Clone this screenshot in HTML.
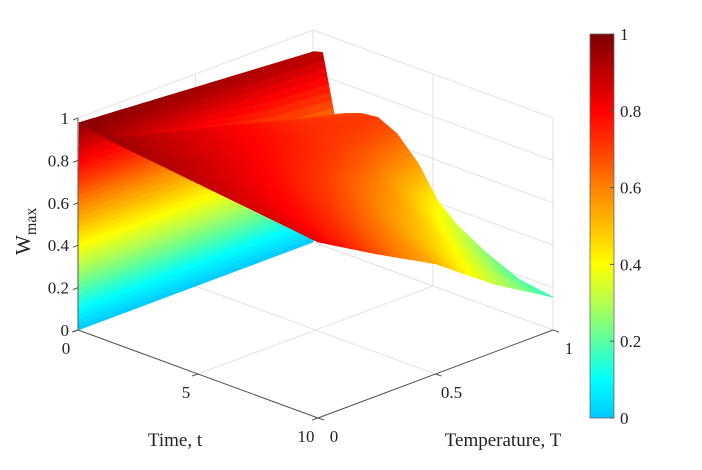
<!DOCTYPE html>
<html><head><meta charset="utf-8"><style>
html,body{margin:0;padding:0;background:#fff;}
svg{display:block;font-family:"Liberation Serif",serif;}
</style></head><body>
<svg id="chart" width="702" height="470" viewBox="0 0 702 470" xmlns="http://www.w3.org/2000/svg">
<g id="grid"></g>
<g id="surf"></g>
<g id="axes"></g>
<g id="cbar"></g>
</svg>
<script>
// ---- data ----
const tValues = [0, 0.05, 0.4, 0.9, 1.3, 2, 2.7, 3.5, 4.4, 5.2, 6, 7.2, 8.6, 10];
const TValues = [0, 0.25, 0.5, 0.75, 1];
const Wrow_t0   = [0, 0, 0, 0, 0];
const Wrow_t005 = [0.98, 0.96, 0.94, 0.92, 0.90];
const Wrow_t04  = [0.97, 0.95, 0.93, 0.92, 0.91];
const Wrow_t09  = [0.96, 0.84, 0.74, 0.66, 0.63];
const Wrow_t13  = [0.95, 0.88, 0.81, 0.73, 0.66];
const Wrow_t2   = [0.94, 0.87, 0.80, 0.73, 0.69];
const Wrow_t27  = [0.93, 0.86, 0.79, 0.72, 0.70];
const Wrow_t35  = [0.92, 0.85, 0.77, 0.70, 0.656];
const Wrow_t44  = [0.907, 0.83, 0.74, 0.66, 0.55];
const Wrow_t52  = [0.896, 0.81, 0.71, 0.60, 0.41];
const Wrow_t6   = [0.885, 0.79, 0.68, 0.55, 0.33];
const Wrow_t72  = [0.869, 0.76, 0.63, 0.47, 0.25];
const Wrow_t86  = [0.85, 0.715, 0.575, 0.39, 0.18];
const Wrow_t10  = [0.83, 0.67, 0.52, 0.32, 0.155];
const W = [Wrow_t0, Wrow_t005, Wrow_t04, Wrow_t09, Wrow_t13, Wrow_t2, Wrow_t27, Wrow_t35, Wrow_t44, Wrow_t52, Wrow_t6, Wrow_t72, Wrow_t86, Wrow_t10];
const tTicks = [0, 5, 10];
const TTicks = [0, 0.5, 1];
const zTicks = [0, 0.2, 0.4, 0.6, 0.8, 1];
const zTickLabels = ["0", "0.2", "0.4", "0.6", "0.8", "1"];
const TTickLabels = ["0", "0.5", "1"];
const tTickLabels = ["0", "5", "10"];

// ---- projection ----
const NS = "http://www.w3.org/2000/svg";
function px(t, T, z) { return 78 + 24 * t + 235 * T; }
function py(t, T, z) { return 330 + 8.8 * t - 88 * T - 212 * z; }
const stops = [[0,[0,200,255]],[0.1,[0,255,255]],[0.2,[90,255,160]],[0.3,[180,255,80]],[0.4,[255,255,0]],[0.5,[255,190,0]],[0.6,[255,130,0]],[0.7,[255,60,0]],[0.8,[255,0,0]],[0.9,[190,0,0]],[1,[125,0,0]]];
function cmap(v) {
  v = Math.max(0, Math.min(1, v));
  for (let i = 0; i < stops.length - 1; i++) {
    const [a, ca] = stops[i], [b, cb] = stops[i + 1];
    if (v <= b) {
      const f = (v - a) / (b - a);
      return "rgb(" + ca.map((c, k) => Math.round(c + (cb[k] - c) * f)).join(",") + ")";
    }
  }
  return "rgb(125,0,0)";
}
function el(tag, attrs, parent) {
  const e = document.createElementNS(NS, tag);
  for (const k in attrs) e.setAttribute(k, attrs[k]);
  parent.appendChild(e);
  return e;
}
const grid = document.getElementById('grid');
const surf = document.getElementById('surf');
const axes = document.getElementById('axes');
const cbar = document.getElementById('cbar');
function line(g, a, b, color, w, name) {
  const l = el('line', {x1: a[0], y1: a[1], x2: b[0], y2: b[1], stroke: color, 'stroke-width': w}, g);
  
  
}
function P(t, T, z) { return [px(t, T, z), py(t, T, z)]; }
const gc = '#e2e2e2';
zTicks.forEach(z => line(grid, P(0, 0, z), P(0, 1, z), gc, 1, 'grid-line-z'));
TTicks.forEach(T => line(grid, P(0, T, 0), P(0, T, 1), gc, 1, 'grid-line-T'));
zTicks.forEach(z => line(grid, P(0, 1, z), P(10, 1, z), gc, 1, 'grid-line-z'));
tTicks.forEach(t => line(grid, P(t, 1, 0), P(t, 1, 1), gc, 1, 'grid-line-t'));
tTicks.forEach(t => line(grid, P(t, 0, 0), P(t, 1, 0), gc, 1, 'grid-line-floor-t'));
TTicks.forEach(T => line(grid, P(0, T, 0), P(10, T, 0), gc, 1, 'grid-line-floor-T'));

// ---- surface ----
const quads = [];
function interp(i, j, u, v) {
  return W[i][j] * (1 - u) * (1 - v) + W[i + 1][j] * u * (1 - v) + W[i][j + 1] * (1 - u) * v + W[i + 1][j + 1] * u * v;
}
for (let i = 0; i < tValues.length - 1; i++) {
  const nt = i === 0 ? 40 : 8;
  for (let j = 0; j < TValues.length - 1; j++) {
    const nT = 10;
    for (let a = 0; a < nt; a++) for (let b = 0; b < nT; b++) {
      const us = [a / nt, (a + 1) / nt], vs = [b / nT, (b + 1) / nT];
      const pts = [[0,0],[1,0],[1,1],[0,1]].map(([ia, ib]) => {
        const u = us[ia], v = vs[ib];
        const t = tValues[i] + (tValues[i + 1] - tValues[i]) * u;
        const T = TValues[j] + (TValues[j + 1] - TValues[j]) * v;
        const z = interp(i, j, u, v);
        return [t, T, z];
      });
      const zc = pts.reduce((s, p) => s + p[2], 0) / 4;
      const tc = pts.reduce((s, p) => s + p[0], 0) / 4;
      const Tc = pts.reduce((s, p) => s + p[1], 0) / 4;
      quads.push({pts, zc, depth: tc / 10 - Tc});
    }
  }
}
quads.sort((p, q) => p.depth - q.depth);
quads.forEach(q => {
  const c = cmap(q.zc);
  const poly = el('polygon', {points: q.pts.map(p => px(...p).toFixed(1) + ',' + py(...p).toFixed(1)).join(' '), fill: c, stroke: c, 'stroke-width': 0.7, 'stroke-linejoin': 'round'}, surf);
  
  
});

// ---- axes ----
const ac = '#555';
line(axes, P(0, 0, 0), P(0, 0, 1), ac, 1, 'z-axis-line');
line(axes, P(0, 0, 0), P(10, 0, 0), ac, 1, 'time-axis-line');
line(axes, P(10, 0, 0), P(10, 1, 0), ac, 1, 'temperature-axis-line');
function text(g, x, y, s, anchor, size, name) {
  const e = el('text', {x: x, y: y, 'text-anchor': anchor, 'font-size': size, fill: '#222'}, g);
  e.textContent = s;
  
  
  return e;
}
zTicks.forEach((z, k) => {
  const p = P(0, 0, z);
  line(axes, [p[0] - 5, p[1] + 2], p, ac, 1, 'z-tick');
  text(axes, p[0] - 9, p[1] + 6, zTickLabels[k], 'end', 17, 'z-tick-label');
});
tTicks.forEach((t, k) => {
  const p = P(t, 0, 0);
  line(axes, p, [p[0] - 6, p[1] + 2], ac, 1, 'time-tick');
  text(axes, p[0] - 12, p[1] + 24, tTickLabels[k], 'middle', 17, 'time-tick-label');
});
TTicks.forEach((T, k) => {
  const p = P(10, T, 0);
  line(axes, p, [p[0] + 6, p[1] + 2], ac, 1, 'temperature-tick');
  text(axes, p[0] + 16, p[1] + 24, TTickLabels[k], 'middle', 17, 'temperature-tick-label');
});
text(axes, 175, 446, 'Time, t', 'middle', 19, 'time-axis-title');
text(axes, 503, 446, 'Temperature, T', 'middle', 19, 'temperature-axis-title');
const zt = el('text', {x: 0, y: 0, 'font-size': 21, fill: '#222', transform: 'translate(30,255) rotate(-90)'}, axes);


zt.innerHTML = 'W<tspan font-size="16" dy="6">max</tspan>';

// ---- colorbar ----
const defs = el('defs', {}, cbar);
const grad = el('linearGradient', {id: 'cg', x1: 0, y1: 1, x2: 0, y2: 0}, defs);
for (let k = 0; k <= 20; k++) el('stop', {offset: k / 20, 'stop-color': cmap(k / 20)}, grad);
const cb = el('rect', {x: 590, y: 34, width: 24, height: 384, fill: 'url(#cg)', stroke: '#666', 'stroke-width': 0.8}, cbar);


zTicks.forEach((z, k) => {
  const y = 418 - 384 * z;
  line(cbar, [614, y], [610, y], '#555', 1, 'colorbar-tick');
  text(cbar, 620, y + 6, zTickLabels[k], 'start', 17, 'colorbar-tick-label');
});
</script>
</body></html>
